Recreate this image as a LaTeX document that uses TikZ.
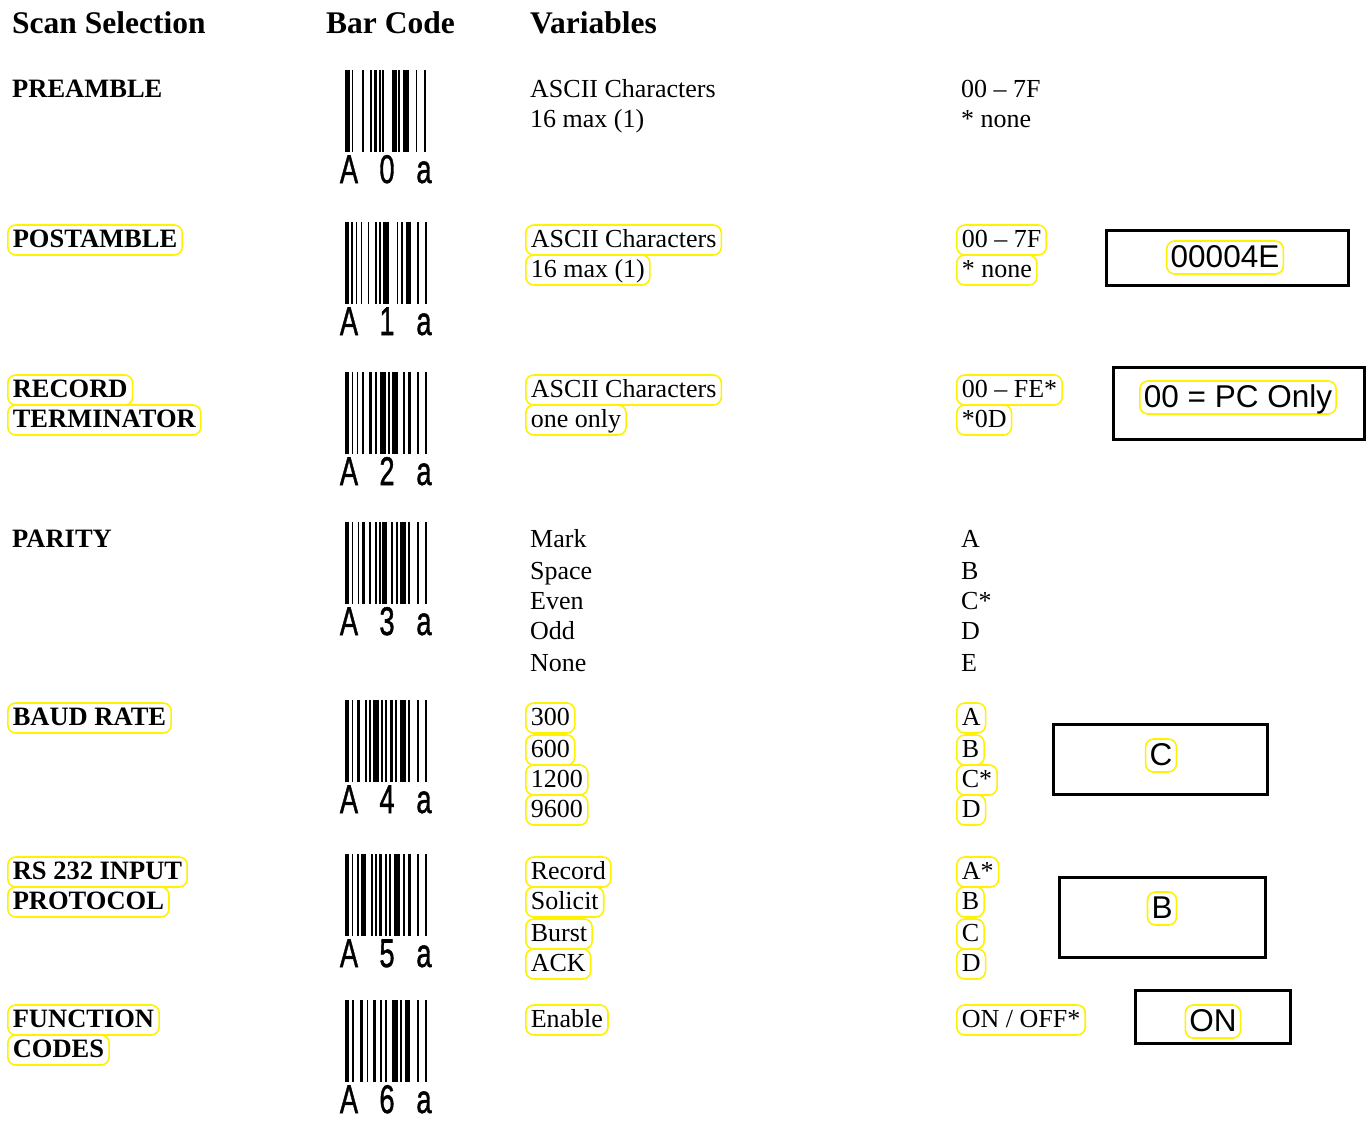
\documentclass[tikz,border=0pt]{standalone}
\usepackage{fontspec}
\setmainfont{Liberation Serif}
\newfontfamily\sansf{Liberation Sans}
\newfontfamily\digf[FakeBold=1.4]{Liberation Sans}
\tikzset{
  hdr/.style={anchor=base west,inner xsep=0pt,inner ysep=0pt,font=\fontsize{31.5}{31.5}\selectfont\bfseries},
  lbl/.style={anchor=base west,inner xsep=5pt,inner ysep=3pt,text height=19pt,text depth=5pt,font=\fontsize{26.5}{26.5}\selectfont\bfseries},
  txt/.style={anchor=base west,inner xsep=5pt,inner ysep=3pt,text height=19pt,text depth=5pt,font=\fontsize{26}{26}\selectfont},
  hl/.style={draw=yellow,line width=1.6pt,rounded corners=8pt},
  big/.style={anchor=base,inner xsep=4pt,inner ysep=3pt,text height=23pt,text depth=4pt,font=\sansf\fontsize{31.5}{31.5}\selectfont},
  frame/.style={draw=black,line width=3pt},
  digit/.style={anchor=base,inner sep=0pt,xscale=0.68,font=\digf\fontsize{40}{40}\selectfont},
}
\newcommand{\mybarcode}[4]{%
  \foreach \s/\w in {#4} {\fill[black] (#1+\s,#2) rectangle ++(\w,82);}
  \node[digit] (dA#3) at (#1+4,#2+113) {A};
  \node[digit] (dN#3) at (#1+42,#2+113) {#3};
  \node[digit] (dB#3) at (#1+79,#2+113) {a};
}
\begin{document}
\begin{tikzpicture}[x=1pt,y=-1pt]
\useasboundingbox (0,0) rectangle (1369,1120);
% headers
\node[hdr] (h1) at (12,33) {Scan Selection};
\node[hdr] (h2) at (326,33) {Bar Code};
\node[hdr] (h3) at (530,33) {Variables};
% row 1 PREAMBLE
\node[lbl] (l1) at (7,97) {PREAMBLE};
\mybarcode{345}{70}{0}{0/4.5, 6.7/1.6, 16.7/2.6, 25/1.7, 29.3/2.4, 34/1.7, 36.7/2.6, 46.7/5, 52.7/2.3, 58.3/5.7, 71/1.3, 79.3/1.7}
\node[txt] (v1a) at (525,97) {ASCII Characters};
\node[txt] (v1b) at (525,127) {16 max (1)};
\node[txt] (c1a) at (956,97) {00 – 7F};
\node[txt] (c1b) at (956,127) {* none};
% row 2 POSTAMBLE
\node[lbl,hl] (l2) at (7,247) {POSTAMBLE};
\mybarcode{345}{222}{1}{0/4, 6/1.7, 11/1.3, 16/1.3, 22.7/1.6, 30/1.7, 34/1.7, 38.3/6, 51.7/1.6, 55.7/2, 61/5, 72.3/1.7, 80/1.7}
\node[txt,hl] (v2a) at (525,247) {ASCII Characters};
\node[txt,hl] (v2b) at (525,277) {16 max (1)};
\node[txt,hl] (c2a) at (956,247) {00 – 7F};
\node[txt,hl] (c2b) at (956,277) {* none};
\node[frame,minimum width=242pt,minimum height=55pt,inner sep=0pt] (b2) at (1227.5,258) {};
\node[big,hl] (t2) at (1225,267) {00004E};
% row 3 RECORD TERMINATOR
\node[lbl,hl] (l3a) at (7,397) {RECORD};
\node[lbl,hl] (l3b) at (7,427) {TERMINATOR};
\mybarcode{345}{372}{2}{0/4.3, 6.5/1.6, 12/1.4, 17/1.6, 24/2.6, 30/1.7, 35/5.5, 43/1.6, 47/6, 58/1.7, 63/2.5, 72.3/1.7, 80/1.7}
\node[txt,hl] (v3a) at (525,397) {ASCII Characters};
\node[txt,hl] (v3b) at (525,427) {one only};
\node[txt,hl] (c3a) at (956,397) {00 – FE*};
\node[txt,hl] (c3b) at (956,427) {*0D};
\node[frame,minimum width=251pt,minimum height=72pt,inner sep=0pt] (b3) at (1239,403) {};
\node[big,hl] (t3) at (1238,407) {00 = PC Only};
% row 4 PARITY
\node[lbl] (l4) at (7,547) {PARITY};
\mybarcode{345}{522}{3}{0/4.3, 6.5/1.6, 13/1.4, 17/2.6, 24/1.6, 30/1.7, 34/1.7, 37/5, 46/1.6, 51/1.6, 55/5.7, 63/1.7, 72.3/1.7, 80/1.7}
\node[txt] (v4a) at (525,547) {Mark};
\node[txt] (v4b) at (525,579) {Space};
\node[txt] (v4c) at (525,609) {Even};
\node[txt] (v4d) at (525,639) {Odd};
\node[txt] (v4e) at (525,671) {None};
\node[txt] (c4a) at (956,547) {A};
\node[txt] (c4b) at (956,579) {B};
\node[txt] (c4c) at (956,609) {C*};
\node[txt] (c4d) at (956,639) {D};
\node[txt] (c4e) at (956,671) {E};
% row 5 BAUD RATE
\node[lbl,hl] (l5) at (7,725) {BAUD RATE};
\mybarcode{345}{700}{4}{0/4.3, 6.5/1.6, 12/2.6, 20/1.6, 24/1.6, 28/5.5, 36/1.7, 40/1.7, 45/2.6, 50/1.6, 55/5.7, 63/1.7, 72.3/1.7, 80/1.7}
\node[txt,hl] (v5a) at (525,725) {300};
\node[txt,hl] (v5b) at (525,757) {600};
\node[txt,hl] (v5c) at (525,787) {1200};
\node[txt,hl] (v5d) at (525,817) {9600};
\node[txt,hl] (c5a) at (956,725) {A};
\node[txt,hl] (c5b) at (956,757) {B};
\node[txt,hl] (c5c) at (956,787) {C*};
\node[txt,hl] (c5d) at (956,817) {D};
\node[frame,minimum width=214pt,minimum height=70pt,inner sep=0pt] (b5) at (1160.5,759) {};
\node[big,hl] (t5) at (1161,765) {C};
% row 6 RS 232 INPUT PROTOCOL
\node[lbl,hl] (l6a) at (7,879) {RS 232 INPUT};
\node[lbl,hl] (l6b) at (7,909) {PROTOCOL};
\mybarcode{345}{854}{5}{0/4.3, 6.5/1.6, 12/1.6, 16/5, 26/1.6, 30/1.7, 34/2.6, 40/1.6, 44/1.6, 49/5.5, 58/1.7, 63/2.5, 72.3/1.7, 80/1.7}
\node[txt,hl] (v6a) at (525,879) {Record};
\node[txt,hl] (v6b) at (525,909) {Solicit};
\node[txt,hl] (v6c) at (525,941) {Burst};
\node[txt,hl] (v6d) at (525,971) {ACK};
\node[txt,hl] (c6a) at (956,879) {A*};
\node[txt,hl] (c6b) at (956,909) {B};
\node[txt,hl] (c6c) at (956,941) {C};
\node[txt,hl] (c6d) at (956,971) {D};
\node[frame,minimum width=206pt,minimum height=80pt,inner sep=0pt] (b6) at (1162,917) {};
\node[big,hl] (t6) at (1162,918) {B};
% row 7 FUNCTION CODES
\node[lbl,hl] (l7a) at (7,1027) {FUNCTION};
\node[lbl,hl] (l7b) at (7,1057) {CODES};
\mybarcode{345}{1000}{6}{0/4.3, 6.7/2.3, 15/2.7, 21.7/1.6, 28.3/2.7, 35/1.7, 40/2.3, 46.7/6.6, 55/2.3, 60/5, 72.3/1.7, 80/1.7}
\node[txt,hl] (v7a) at (525,1027) {Enable};
\node[txt,hl] (c7a) at (956,1027) {ON / OFF*};
\node[frame,minimum width=155pt,minimum height=53pt,inner sep=0pt] (b7) at (1212.5,1016.5) {};
\node[big,hl] (t7) at (1213,1031) {ON};
\end{tikzpicture}
\end{document}
